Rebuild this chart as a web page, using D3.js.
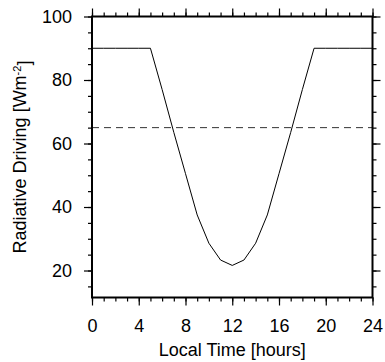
<!DOCTYPE html>
<html>
<head>
<meta charset="utf-8">
<script src="https://cdn.jsdelivr.net/npm/d3@7"></script>
<style>
  body { margin: 0; background: #fff; }
  svg { display: block; font-family: "Liberation Sans", Arial, Helvetica, sans-serif; }
</style>
</head>
<body>
<div id="chart"></div>
<script>
// hourly radiative driving (W m-2)
const hours = [0, 1, 2, 3, 4, 5, 6, 7, 8, 9, 10, 11, 12, 13, 14, 15, 16, 17, 18, 19, 20, 21, 22, 23, 24];
const driving = [90, 90, 90, 90, 90, 90, 77, 63.5, 50.5, 37.5, 28.6, 23.3, 21.6, 23.3, 28.6, 37.5, 50.5, 63.5, 77, 90, 90, 90, 90, 90, 90];
const meanDriving = 65;
const xTicks = [0, 4, 8, 12, 16, 20, 24];
const yTicks = [20, 40, 60, 80, 100];

const width = 385, height = 362;
const margin = { top: 16.5, right: 12.5, bottom: 64.5, left: 92 };
const fontSize = 18;

const svg = d3.select("#chart").append("svg")
  .attr("width", width)
  .attr("height", height);

const x = d3.scaleLinear().domain([0, 24]).range([margin.left, width - margin.right]);
const y = d3.scaleLinear().domain([11.5, 100]).range([height - margin.bottom, margin.top]);

const xMinor = d3.range(0, 25, 1);
const yMinor = d3.range(15, 101, 5);

// tick marks on all four sides, pointing outward
function ticks(axisGen, tr) {
  const g = svg.append("g").attr("transform", tr).call(axisGen);
  g.select(".domain").remove();
  g.selectAll("line").attr("stroke", "#000").attr("stroke-width", 1.2);
  return g;
}
ticks(d3.axisBottom(x).tickValues(xMinor).tickSize(4).tickFormat(""), `translate(0,${y.range()[0]})`);
ticks(d3.axisTop(x).tickValues(xMinor).tickSize(4).tickFormat(""), `translate(0,${y.range()[1]})`);
ticks(d3.axisLeft(y).tickValues(yMinor).tickSize(4).tickFormat(""), `translate(${x.range()[0]},0)`);
ticks(d3.axisRight(y).tickValues(yMinor).tickSize(4).tickFormat(""), `translate(${x.range()[1]},0)`);

const xb = ticks(d3.axisBottom(x).tickValues(xTicks).tickSize(8).tickPadding(14), `translate(0,${y.range()[0]})`);
ticks(d3.axisTop(x).tickValues(xTicks).tickSize(8).tickFormat(""), `translate(0,${y.range()[1]})`);
const yl = ticks(d3.axisLeft(y).tickValues(yTicks).tickSize(8).tickPadding(12), `translate(${x.range()[0]},0)`);
ticks(d3.axisRight(y).tickValues(yTicks).tickSize(8).tickFormat(""), `translate(${x.range()[1]},0)`);

[xb, yl].forEach(g => g.selectAll("text")
  .attr("fill", "#000")
  .style("font-size", fontSize + "px")
  .style("font-family", "'Liberation Sans', Arial, sans-serif"));

// dashed mean line
svg.append("line")
  .attr("x1", x(0)).attr("x2", x(24))
  .attr("y1", y(meanDriving)).attr("y2", y(meanDriving))
  .attr("stroke", "#333")
  .attr("stroke-width", 1)
  .attr("stroke-dasharray", "7,5");

// diurnal curve
const line = d3.line()
  .x((d, i) => x(hours[i]))
  .y(d => y(d));

svg.append("path")
  .datum(driving)
  .attr("d", line)
  .attr("fill", "none")
  .attr("stroke", "#000")
  .attr("stroke-width", 1);

// frame
svg.append("rect")
  .attr("x", x(0)).attr("y", y(100))
  .attr("width", x(24) - x(0))
  .attr("height", y(11.5) - y(100))
  .attr("fill", "none")
  .attr("stroke", "#000")
  .attr("stroke-width", 2);

// axis titles
svg.append("text")
  .attr("x", (x(0) + x(24)) / 2)
  .attr("y", 356)
  .attr("text-anchor", "middle")
  .style("font-size", fontSize + "px")
  .text("Local Time [hours]");

const yTitle = svg.append("text")
  .attr("transform", `translate(26,${(y(100) + y(11.5)) / 2}) rotate(-90)`)
  .attr("text-anchor", "middle")
  .style("font-size", fontSize + "px");
yTitle.append("tspan").text("Radiative Driving [Wm");
yTitle.append("tspan").attr("dy", "-0.5em").style("font-size", "11px").text("-2");
yTitle.append("tspan").attr("dy", "0.5em").text("]");
</script>
</body>
</html>
